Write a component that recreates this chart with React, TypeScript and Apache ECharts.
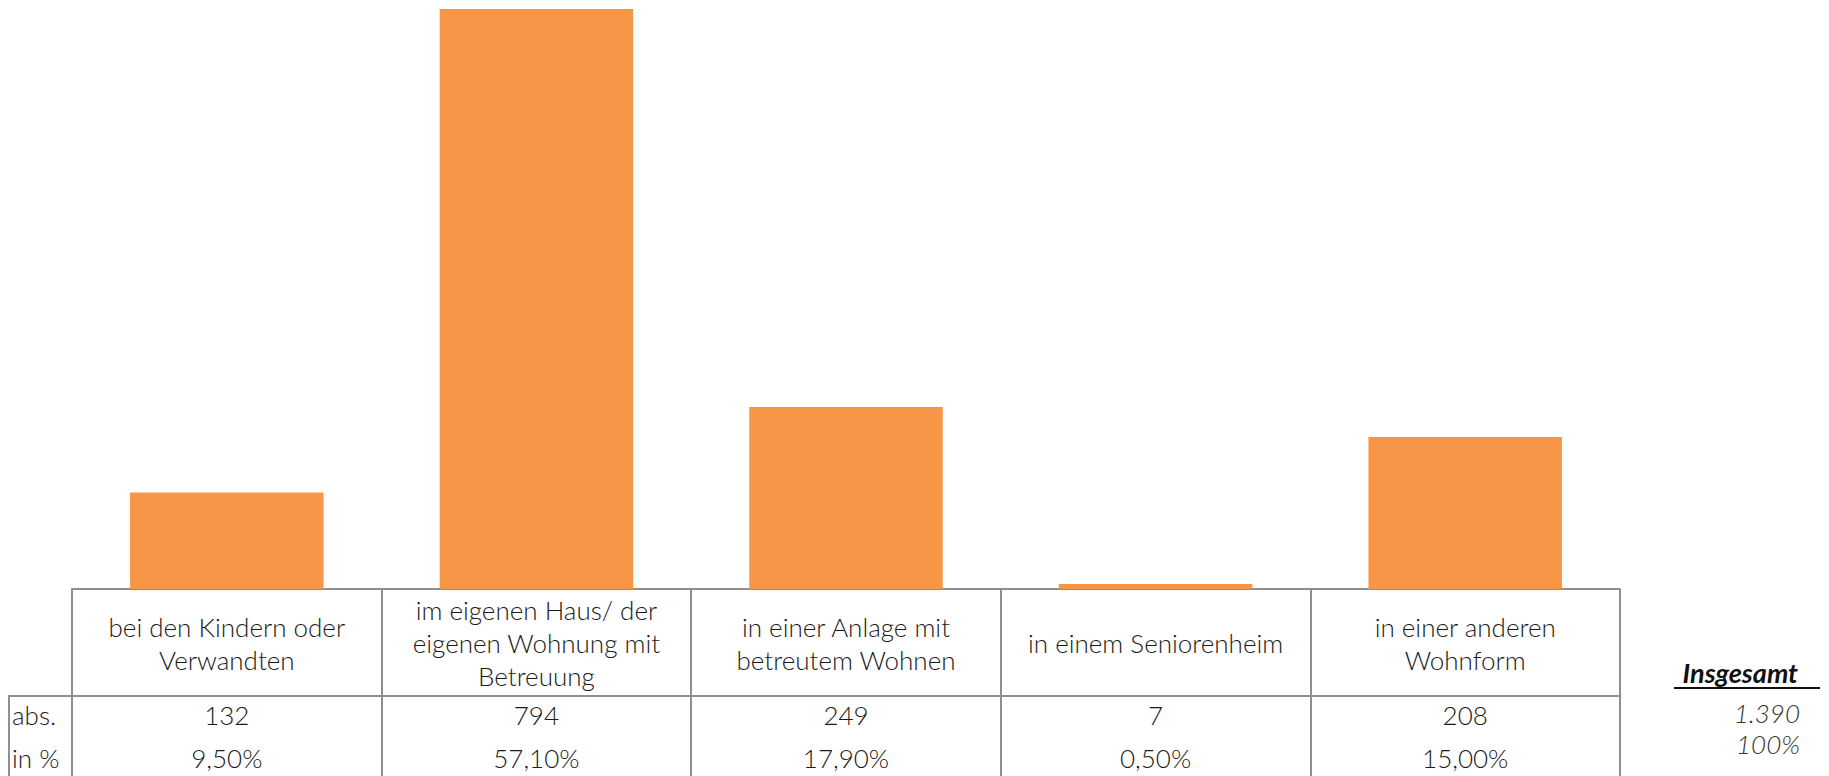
import React, { useEffect, useRef } from "react";
import * as echarts from "echarts";

const categories = [
  "bei den Kindern oder\nVerwandten",
  "im eigenen Haus/ der\neigenen Wohnung mit\nBetreuung",
  "in einer Anlage mit\nbetreutem Wohnen",
  "in einem Seniorenheim",
  "in einer anderen\nWohnform",
];
const absValues = [132, 794, 249, 7, 208];
const pctLabels = ["9,50%", "57,10%", "17,90%", "0,50%", "15,00%"];
const rowLabels = ["abs.", "in %"];
const totalTitle = "Insgesamt";
const totalAbs = "1.390";
const totalPct = "100%";

const W = 1829;
const H = 776;
const GRID_LEFT = 72;
const GRID_RIGHT = 1620;
const AXIS_Y = 589;
const GRID_TOP = 9;
const HEADER_BOTTOM = 696;
const ROW1_Y = 715;
const ROW2_Y = 758;
const LINE_COLOR = "#8f8f8f";
const FONT = "Lato, 'Open Sans', sans-serif";
const TEXT_COLOR = "#1a1a1a";
const FS = 26;

export default function App() {
  const ref = useRef<HTMLDivElement>(null);
  useEffect(() => {
    if (!ref.current) return;
    const chart = echarts.init(ref.current, undefined, { renderer: "svg" });
    const labelBase = {
      interval: 0,
      verticalAlign: "middle" as const,
      fontSize: FS,
      lineHeight: 33,
      color: TEXT_COLOR,
      fontFamily: FONT,
      fontWeight: 300 as any,
    };
    chart.setOption({
      animation: false,
      grid: {
        left: GRID_LEFT,
        right: W - GRID_RIGHT,
        top: GRID_TOP,
        bottom: H - AXIS_Y,
      },
      xAxis: [
        {
          type: "category",
          data: categories,
          position: "bottom",
          axisLine: { show: true, lineStyle: { color: LINE_COLOR, width: 2 } },
          axisTick: { show: true, length: H - AXIS_Y, lineStyle: { color: LINE_COLOR, width: 2 } },
          axisLabel: { ...labelBase, margin: 54 },
        },
        {
          type: "category",
          data: absValues.map(String),
          position: "bottom",
          axisLine: { show: false },
          axisTick: { show: false },
          axisLabel: { ...labelBase, margin: ROW1_Y - AXIS_Y },
        },
        {
          type: "category",
          data: pctLabels,
          position: "bottom",
          axisLine: { show: false },
          axisTick: { show: false },
          axisLabel: { ...labelBase, margin: ROW2_Y - AXIS_Y },
        },
      ],
      yAxis: { type: "value", min: 0, max: 794, show: false },
      series: [
        {
          type: "bar",
          data: absValues,
          xAxisIndex: 0,
          barWidth: "62.5%",
          itemStyle: { color: "#F79646" },
        },
      ],
      graphic: [
        {
          type: "line",
          shape: { x1: 8, y1: HEADER_BOTTOM, x2: GRID_RIGHT, y2: HEADER_BOTTOM },
          style: { stroke: LINE_COLOR, lineWidth: 2 },
        },
        {
          type: "line",
          shape: { x1: 9, y1: HEADER_BOTTOM, x2: 9, y2: H },
          style: { stroke: LINE_COLOR, lineWidth: 2 },
        },
        {
          type: "text",
          x: 12,
          y: ROW1_Y,
          style: { text: rowLabels[0], fontSize: FS, fontFamily: FONT, fontWeight: 300, fill: TEXT_COLOR, verticalAlign: "middle" },
        },
        {
          type: "text",
          x: 12,
          y: ROW2_Y,
          style: { text: rowLabels[1], fontSize: FS, fontFamily: FONT, fontWeight: 300, fill: TEXT_COLOR, verticalAlign: "middle" },
        },
        {
          type: "text",
          x: 1798,
          y: 672,
          style: { text: totalTitle, fontSize: 27, fontFamily: FONT, fontWeight: "bold", fontStyle: "italic", fill: "#111", align: "right", verticalAlign: "middle" },
        },
        {
          type: "line",
          shape: { x1: 1674, y1: 688, x2: 1820, y2: 688 },
          style: { stroke: "#111", lineWidth: 2 },
        },
        {
          type: "text",
          x: 1800,
          y: 713,
          style: { text: totalAbs, fontSize: 26, fontFamily: FONT, fontWeight: 300, fontStyle: "italic", fill: "#333", align: "right", verticalAlign: "middle" },
        },
        {
          type: "text",
          x: 1800,
          y: 744,
          style: { text: totalPct, fontSize: 26, fontFamily: FONT, fontWeight: 300, fontStyle: "italic", fill: "#333", align: "right", verticalAlign: "middle" },
        },
      ],
    });
    return () => chart.dispose();
  }, []);
  return (
    <div
      ref={ref}
      style={{ position: "fixed", left: 0, top: 0, width: W, height: H, background: "#fff" }}
    />
  );
}
